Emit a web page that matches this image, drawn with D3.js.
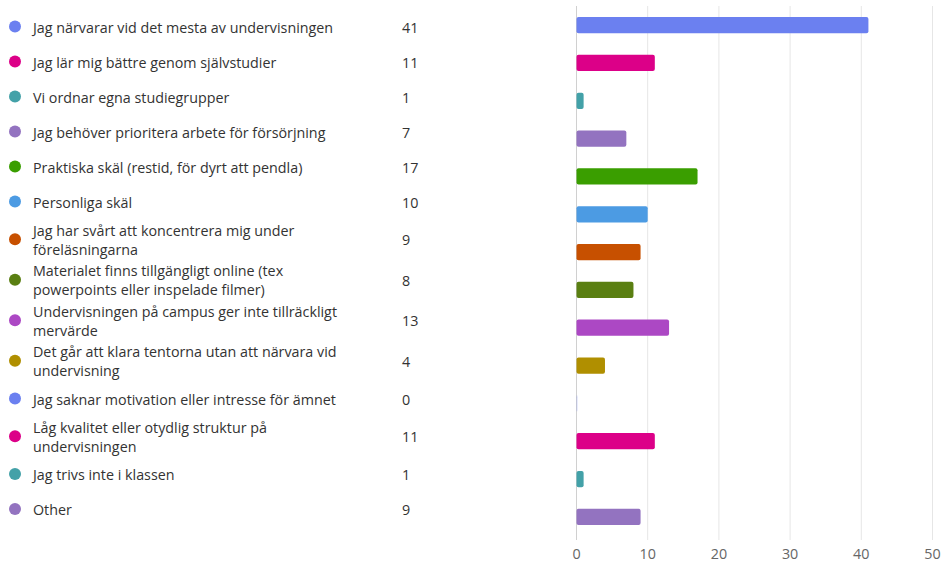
<!DOCTYPE html>
<html>
<head>
<meta charset="utf-8">
<script src="https://cdn.jsdelivr.net/npm/d3@7"></script>
<style>
  body { margin: 0; background: #fff; }
  text { font-family: "Open Sans", "Noto Sans", sans-serif; }
</style>
</head>
<body>
<svg id="chart"></svg>
<script>
"use strict";

const labels = [
  ["Jag närvarar vid det mesta av undervisningen"],
  ["Jag lär mig bättre genom självstudier"],
  ["Vi ordnar egna studiegrupper"],
  ["Jag behöver prioritera arbete för försörjning"],
  ["Praktiska skäl (restid, för dyrt att pendla)"],
  ["Personliga skäl"],
  ["Jag har svårt att koncentrera mig under", "föreläsningarna"],
  ["Materialet finns tillgängligt online (tex", "powerpoints eller inspelade filmer)"],
  ["Undervisningen på campus ger inte tillräckligt", "mervärde"],
  ["Det går att klara tentorna utan att närvara vid", "undervisning"],
  ["Jag saknar motivation eller intresse för ämnet"],
  ["Låg kvalitet eller otydlig struktur på", "undervisningen"],
  ["Jag trivs inte i klassen"],
  ["Other"]
];
const counts = [41, 11, 1, 7, 17, 10, 9, 8, 13, 4, 0, 11, 1, 9];
const colors = ["#6b80f0", "#dc0088", "#43a1a8", "#9373c0", "#3a9e00", "#4c9be3",
  "#c75000", "#5a7f12", "#ac48c4", "#b08f00", "#6b80f0", "#dc0088", "#43a1a8", "#9373c0"];
const xTicks = [0, 10, 20, 30, 40, 50];

const width = 942, height = 562;

const chart = d3.select('#chart')
  .attr('width', width)
  .attr('height', height);

// left list: rows are taller when the label wraps
let pos = 26.5 - 17.5;
const rowY = labels.map(l => {
  const h = l.length > 1 ? 40.5 : 35;
  const c = pos + h / 2;
  pos += h;
  return c;
});

const list = chart.append('g');
labels.forEach((l, i) => {
  const y = rowY[i];
  list.append('circle')
    .attr('cx', 15).attr('cy', y).attr('r', 6)
    .attr('fill', colors[i]);
  const t = list.append('text')
    .attr('x', 33)
    .attr('y', y - (l.length - 1) * 9.5 + 1)
    .attr('font-size', 14.3)
    .attr('fill', '#333');
  l.forEach((line, j) => {
    t.append('tspan').attr('x', 33).attr('dy', j === 0 ? '0.35em' : 19).text(line);
  });
  list.append('text')
    .attr('x', 402).attr('y', y + 1).attr('dy', '0.35em')
    .attr('font-size', 14.3).attr('fill', '#333')
    .text(counts[i]);
});

// bar chart
const x = d3.scaleLinear().domain([0, 50]).range([576.5, 932.5]);
const y = d3.scaleBand().domain(d3.range(counts.length)).range([6.4, 535.6]).paddingInner(0.57).paddingOuter(0.28);

chart.append('g')
  .selectAll('line')
  .data(xTicks)
  .join('line')
  .attr('x1', d => x(d)).attr('x2', d => x(d))
  .attr('y1', 6).attr('y2', 540)
  .attr('stroke', d => d === 0 ? '#d0d0d0' : '#e6e6e6')
  .attr('stroke-width', 1);

chart.append('g')
  .selectAll('text')
  .data(xTicks)
  .join('text')
  .attr('x', d => x(d)).attr('y', 554).attr('dy', '0.35em')
  .attr('text-anchor', 'middle')
  .attr('font-size', 14.3).attr('fill', '#666')
  .text(d => d);

chart.append('g')
  .selectAll('rect')
  .data(counts)
  .join('rect')
  .attr('x', x(0))
  .attr('y', (d, i) => y(i))
  .attr('width', d => Math.max(x(d) - x(0), 1))
  .attr('height', y.bandwidth())
  .attr('rx', 2)
  .attr('fill', (d, i) => colors[i])
  .attr('opacity', d => d === 0 ? 0.3 : 1);
</script>
</body>
</html>
